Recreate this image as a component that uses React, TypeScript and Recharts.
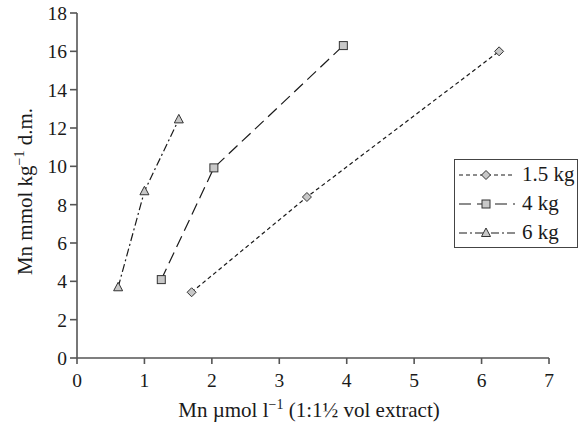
import { ScatterChart, Scatter, XAxis, YAxis, Label } from 'recharts';

const xTicks = [0, 1, 2, 3, 4, 5, 6, 7];
const yTicks = [0, 2, 4, 6, 8, 10, 12, 14, 16, 18];

const names = ['1.5 kg', '4 kg', '6 kg'];
const x15 = [1.7, 3.41, 6.26];
const y15 = [3.43, 8.4, 16.0];
const x4 = [1.25, 2.03, 3.95];
const y4 = [4.09, 9.92, 16.3];
const x6 = [0.61, 1.0, 1.51];
const y6 = [3.69, 8.7, 12.45];

const zip = (xs: number[], ys: number[]) => xs.map((x, i) => ({ x, y: ys[i] }));

const FONT = "'Liberation Serif', 'Times New Roman', Times, 'DejaVu Serif', serif";
const INK = '#1a1a1a';
const AXIS = '#555';
const MARK_FILL = '#c8c8c8';

type Kind = 'diamond' | 'square' | 'triangle';

const series: { name: string; data: { x: number; y: number }[]; kind: Kind; dash: string }[] = [
  { name: names[0], data: zip(x15, y15), kind: 'diamond', dash: '4 3' },
  { name: names[1], data: zip(x4, y4), kind: 'square', dash: '12 6' },
  { name: names[2], data: zip(x6, y6), kind: 'triangle', dash: '8 3 2 3' },
];

const Marker = ({ kind, cx, cy }: { kind: Kind; cx: number; cy: number }) => {
  const s = 4.5;
  if (kind === 'diamond') {
    return (
      <polygon
        points={`${cx},${cy - s} ${cx + s},${cy} ${cx},${cy + s} ${cx - s},${cy}`}
        fill={MARK_FILL}
        stroke="#333"
        strokeWidth={1}
      />
    );
  }
  if (kind === 'square') {
    return <rect x={cx - 4} y={cy - 4} width={8} height={8} fill={MARK_FILL} stroke="#333" strokeWidth={1} />;
  }
  return (
    <polygon
      points={`${cx},${cy - 5} ${cx + 4.5},${cy + 3.5} ${cx - 4.5},${cy + 3.5}`}
      fill={MARK_FILL}
      stroke="#333"
      strokeWidth={1}
    />
  );
};

const LegendBox = () => (
  <div
    style={{
      position: 'absolute',
      left: 454,
      top: 159,
      width: 124,
      boxSizing: 'border-box',
      border: '1.5px solid #444',
      background: '#fff',
      fontFamily: FONT,
      fontSize: 21,
      color: INK,
      whiteSpace: 'nowrap',
    }}
  >
    {series.map((s) => (
      <div key={s.name} style={{ display: 'flex', alignItems: 'center', height: 29 }}>
        <svg width={56} height={14} style={{ marginLeft: 4, flex: 'none' }}>
          <line x1={0} y1={7} x2={56} y2={7} stroke={INK} strokeWidth={1.2} strokeDasharray={s.dash} />
          <Marker kind={s.kind} cx={27} cy={7} />
        </svg>
        <span style={{ marginLeft: 7, lineHeight: '29px' }}>{s.name}</span>
      </div>
    ))}
  </div>
);

export default function App() {
  return (
    <div style={{ position: 'absolute', left: 0, top: 0, width: 580, height: 424, background: '#fff' }}>
      <ScatterChart width={580} height={424} margin={{ top: 13, right: 31, bottom: 15, left: 0 }}>
        <XAxis
          type="number"
          dataKey="x"
          domain={[0, 7]}
          ticks={xTicks}
          interval={0}
          stroke={AXIS}
          strokeWidth={1.6}
          tickSize={6}
          tickMargin={9}
          height={51}
          tick={{ fill: INK, fontSize: 19.5, fontFamily: FONT }}
        >
          <Label
            content={(props: any) => {
              const vb = props.viewBox || { x: 77, y: 358, width: 472, height: 51 };
              return (
                <text
                  x={vb.x + vb.width / 2 - 4}
                  y={417}
                  textAnchor="middle"
                  fontFamily={FONT}
                  fontSize={21}
                  fill={INK}
                >
                  Mn µmol l
                  <tspan dy={-8} fontSize={14}>−1</tspan>
                  <tspan dy={8}> (1:1½ vol extract)</tspan>
                </text>
              );
            }}
          />
        </XAxis>
        <YAxis
          type="number"
          dataKey="y"
          domain={[0, 18]}
          ticks={yTicks}
          interval={0}
          width={77}
          stroke={AXIS}
          strokeWidth={1.6}
          tickSize={7}
          tickMargin={3}
          tick={{ fill: INK, fontSize: 19.5, fontFamily: FONT }}
        >
          <Label
            content={(props: any) => {
              const vb = props.viewBox || { x: 0, y: 13, width: 77, height: 345 };
              const cx = 32;
              const cy = vb.y + vb.height / 2 + 6;
              return (
                <text
                  x={cx}
                  y={cy}
                  transform={`rotate(-90, ${cx}, ${cy})`}
                  textAnchor="middle"
                  fontFamily={FONT}
                  fontSize={21}
                  fill={INK}
                >
                  Mn mmol kg
                  <tspan dy={-8} fontSize={14}>−1</tspan>
                  <tspan dy={8}> d.m.</tspan>
                </text>
              );
            }}
          />
        </YAxis>
        {series.map((s) => (
          <Scatter
            key={s.name}
            name={s.name}
            data={s.data}
            isAnimationActive={false}
            line={{ stroke: INK, strokeWidth: 1.2, strokeDasharray: s.dash }}
            shape={(p: any) => <Marker kind={s.kind} cx={p.cx} cy={p.cy} />}
          />
        ))}
      </ScatterChart>
      <LegendBox />
    </div>
  );
}
